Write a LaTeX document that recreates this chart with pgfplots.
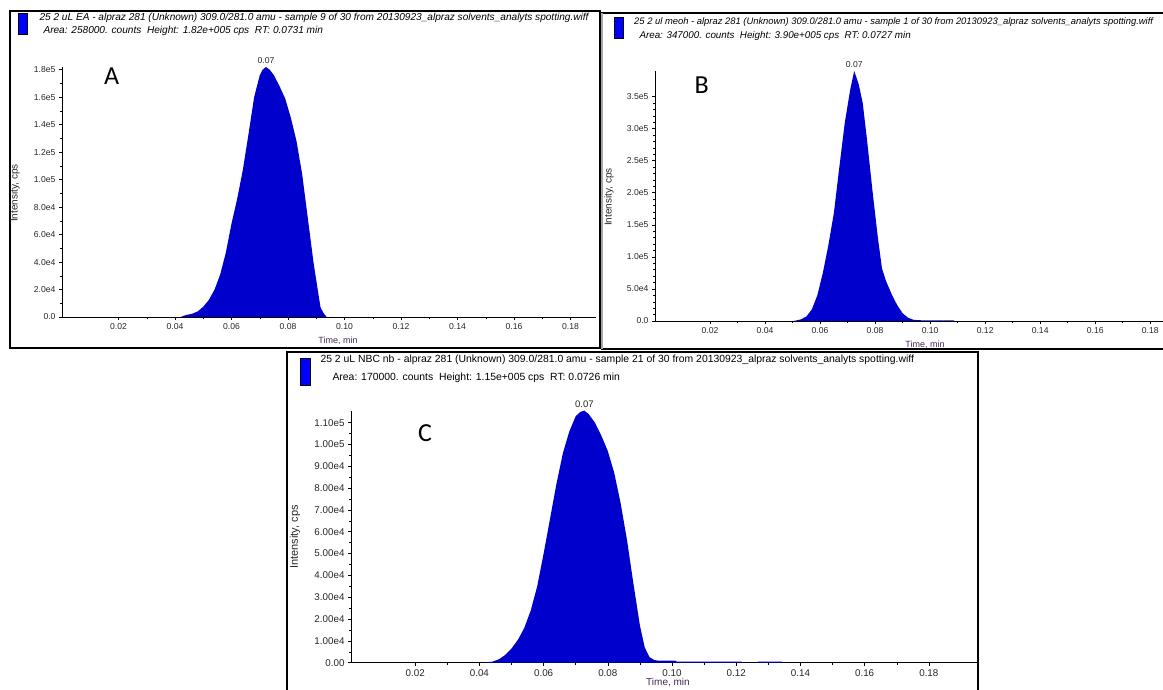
\documentclass[border=0pt]{standalone}
\usepackage{fontspec}
\setmainfont{Liberation Sans}
\newfontfamily\carlito{Carlito}
\usepackage{pgfplots}
\usepackage{pgfplotstable}
\pgfplotsset{compat=1.18}
\definecolor{peak}{RGB}{0,0,204}
\definecolor{tlab}{RGB}{70,40,90}
\definecolor{legblue}{RGB}{0,0,255}

\pgfplotstableread{
t y
0.0420 0
0.0430 800
0.0440 1500
0.0460 2300
0.0480 4000
0.0500 7500
0.0520 12500
0.0540 20000
0.0560 31000
0.0580 47000
0.0600 68000
0.0620 86000
0.0640 107000
0.0660 133000
0.0680 160000
0.0700 176000
0.0710 180000
0.0722 182000
0.0735 180000
0.0750 176000
0.0770 168000
0.0790 159000
0.0810 145000
0.0830 128000
0.0850 104000
0.0870 72000
0.0890 40000
0.0905 20000
0.0915 7000
0.0925 3000
0.0937 0
}\dataA

\pgfplotstableread{
t y
0.0500 0
0.0510 500
0.0530 2500
0.0550 7000
0.0570 18000
0.0590 40000
0.0610 75000
0.0630 118000
0.0650 168000
0.0670 240000
0.0690 310000
0.0710 362000
0.0724 390000
0.0740 370000
0.0755 340000
0.0770 285000
0.0790 205000
0.0810 130000
0.0825 82000
0.0840 62000
0.0860 42000
0.0880 25000
0.0900 12000
0.0920 5000
0.0940 1800
0.0960 1200
0.1000 1000
0.1085 800
0.1090 0
}\dataB

\pgfplotstableread{
t y
0.0410 0
0.0420 200
0.0440 450
0.0460 1500
0.0480 3500
0.0500 6500
0.0520 10500
0.0540 16000
0.0560 24000
0.0580 35000
0.0600 50000
0.0620 66000
0.0640 82000
0.0660 96000
0.0680 106000
0.0700 113000
0.0715 115000
0.0727 115500
0.0740 114000
0.0760 110000
0.0780 104000
0.0800 97000
0.0820 87000
0.0840 73000
0.0860 56000
0.0880 36000
0.0900 17000
0.0915 7000
0.0930 2500
0.0945 1200
0.0960 900
0.1010 900
0.1015 500
0.1217 500
0.1218 0
0.1266 0
0.1267 500
0.1342 500
0.1343 0
}\dataC

\pgfplotsset{chrom/.style={
  scale only axis, anchor=south west,
  axis x line*=bottom, axis y line*=left,
  xmin=0, ymin=0, clip=false,
  scaled x ticks=false, scaled y ticks=false,
  tick align=outside,
  axis line style={line width=0.9pt, black},
  major tick style={black, line width=0.6pt},
  minor tick style={black, line width=0.5pt},
  major tick length=3pt, minor tick length=2pt,
  xtick={0.02,0.04,0.06,0.08,0.10,0.12,0.14,0.16,0.18},
  xticklabels={0.02,0.04,0.06,0.08,0.10,0.12,0.14,0.16,0.18},
  minor x tick num=1,
  ticklabel style={text=black!85},
}}

\begin{document}
\begin{tikzpicture}
\useasboundingbox (0pt,0pt) rectangle (1163pt,689pt);
\clip (0pt,0pt) rectangle (1163pt,689pt);

% frames
\draw[line width=2.5pt] (601pt,676pt) -- (1175pt,676pt);
\draw[line width=2.5pt] (601pt,340pt) -- (1175pt,340pt);
\draw[line width=2pt, gray!70] (602pt,676pt) -- (602pt,340pt);
\draw[line width=2.5pt] (10pt,678pt) rectangle (600pt,341pt);
\draw[line width=2.5pt, fill=white] (287pt,337pt) rectangle (978pt,-11pt);

% ---------- Panel A ----------
\draw[fill=legblue] (18pt,676pt) rectangle (27pt,655pt);
\node[anchor=west, font=\fontsize{10.1}{12}\selectfont\itshape] at (36pt,671pt)
  {25 2 uL EA - alpraz 281 (Unknown) 309.0/281.0 amu - sample 9 of 30 from 20130923\_alpraz solvents\_analyts spotting.wiff};
\node[anchor=west, font=\fontsize{10.1}{12}\selectfont\itshape] at (40pt,658pt)
  {Area: 258000. counts\ \ Height: 1.82e+005 cps\ \ RT: 0.0731 min};
\begin{axis}[chrom, at={(62pt,372pt)}, width=534pt, height=250pt,
  xmax=0.189, ymax=182000,
  ytick={0,20000,40000,60000,80000,100000,120000,140000,160000,180000},
  yticklabels={0.0,2.0e4,4.0e4,6.0e4,8.0e4,1.0e5,1.2e5,1.4e5,1.6e5,1.8e5},
  minor y tick num=1,
  ticklabel style={font=\fontsize{8.6}{10}\selectfont}]
\addplot[draw=none, fill=peak] table[x=t, y=y] {\dataA} \closedcycle;
\node[anchor=south, inner sep=1pt, yshift=2pt, font=\fontsize{8.6}{10}\selectfont, text=black!85]
  at (axis cs:0.0722,182000) {0.07};
\end{axis}
\node[font=\carlito\fontsize{26}{28}\selectfont] at (111.7pt,613pt) {A};
\node[rotate=90, font=\fontsize{10}{12}\selectfont, text=black!85] at (15pt,496pt) {Intensity, cps};
\node[font=\fontsize{9}{11}\selectfont, text=tlab] at (338pt,348pt) {Time, min};

% ---------- Panel B ----------
\draw[fill=legblue] (614pt,672pt) rectangle (623pt,651pt);
\node[anchor=west, inner sep=1pt, font=\fontsize{9.4}{11}\selectfont\itshape] at (633pt,667pt)
  {25 2 ul meoh - alpraz 281 (Unknown) 309.0/281.0 amu - sample 1 of 30 from 20130923\_alpraz solvents\_analyts spotting.wiff};
\node[anchor=west, font=\fontsize{9.8}{12}\selectfont\itshape] at (636pt,653pt)
  {Area: 347000. counts\ \ Height: 3.90e+005 cps\ \ RT: 0.0727 min};
\begin{axis}[chrom, at={(655pt,368pt)}, width=520pt, height=250pt,
  xmax=0.189, ymax=390000,
  ytick={0,50000,100000,150000,200000,250000,300000,350000},
  yticklabels={0.0,5.0e4,1.0e5,1.5e5,2.0e5,2.5e5,3.0e5,3.5e5},
  minor y tick num=4,
  ticklabel style={font=\fontsize{8.6}{10}\selectfont}]
\addplot[draw=none, fill=peak] table[x=t, y=y] {\dataB} \closedcycle;
\node[anchor=south, inner sep=1pt, yshift=2pt, font=\fontsize{8.6}{10}\selectfont, text=black!85]
  at (axis cs:0.0724,390000) {0.07};
\end{axis}
\node[font=\carlito\fontsize{26}{28}\selectfont] at (701.7pt,604pt) {B};
\node[rotate=90, font=\fontsize{10}{12}\selectfont, text=black!85] at (609pt,492pt) {Intensity, cps};
\node[font=\fontsize{9}{11}\selectfont, text=tlab] at (925pt,344pt) {Time, min};

% ---------- Panel C ----------
\draw[fill=legblue] (300pt,331pt) rectangle (310pt,304pt);
\node[anchor=west, font=\fontsize{10.4}{12}\selectfont] at (317pt,329pt)
  {25 2 uL NBC nb - alpraz 281 (Unknown) 309.0/281.0 amu - sample 21 of 30 from 20130923\_alpraz solvents\_analyts spotting.wiff};
\node[anchor=west, font=\fontsize{10.4}{12}\selectfont] at (329pt,311pt)
  {Area: 170000. counts\ \ Height: 1.15e+005 cps\ \ RT: 0.0726 min};
\begin{axis}[chrom, at={(351pt,26.3pt)}, width=626pt, height=252pt,
  xmax=0.195, ymax=115500,
  ytick={0,10000,20000,30000,40000,50000,60000,70000,80000,90000,100000,110000},
  yticklabels={0.00,1.00e4,2.00e4,3.00e4,4.00e4,5.00e4,6.00e4,7.00e4,8.00e4,9.00e4,1.00e5,1.10e5},
  minor y tick num=1,
  ticklabel style={font=\fontsize{9.8}{11}\selectfont}]
\addplot[draw=none, fill=peak] table[x=t, y=y] {\dataC} \closedcycle;
\node[anchor=south, inner sep=1pt, yshift=2pt, font=\fontsize{9.5}{11}\selectfont, text=black!85]
  at (axis cs:0.0727,115500) {0.07};
\end{axis}
\node[font=\carlito\fontsize{26}{28}\selectfont] at (425pt,255.7pt) {C};
\node[rotate=90, font=\fontsize{11}{13}\selectfont, text=black!85] at (295pt,152pt) {Intensity, cps};
\node[font=\fontsize{10}{12}\selectfont, text=tlab] at (668pt,6pt) {Time, min};
\end{tikzpicture}
\end{document}
